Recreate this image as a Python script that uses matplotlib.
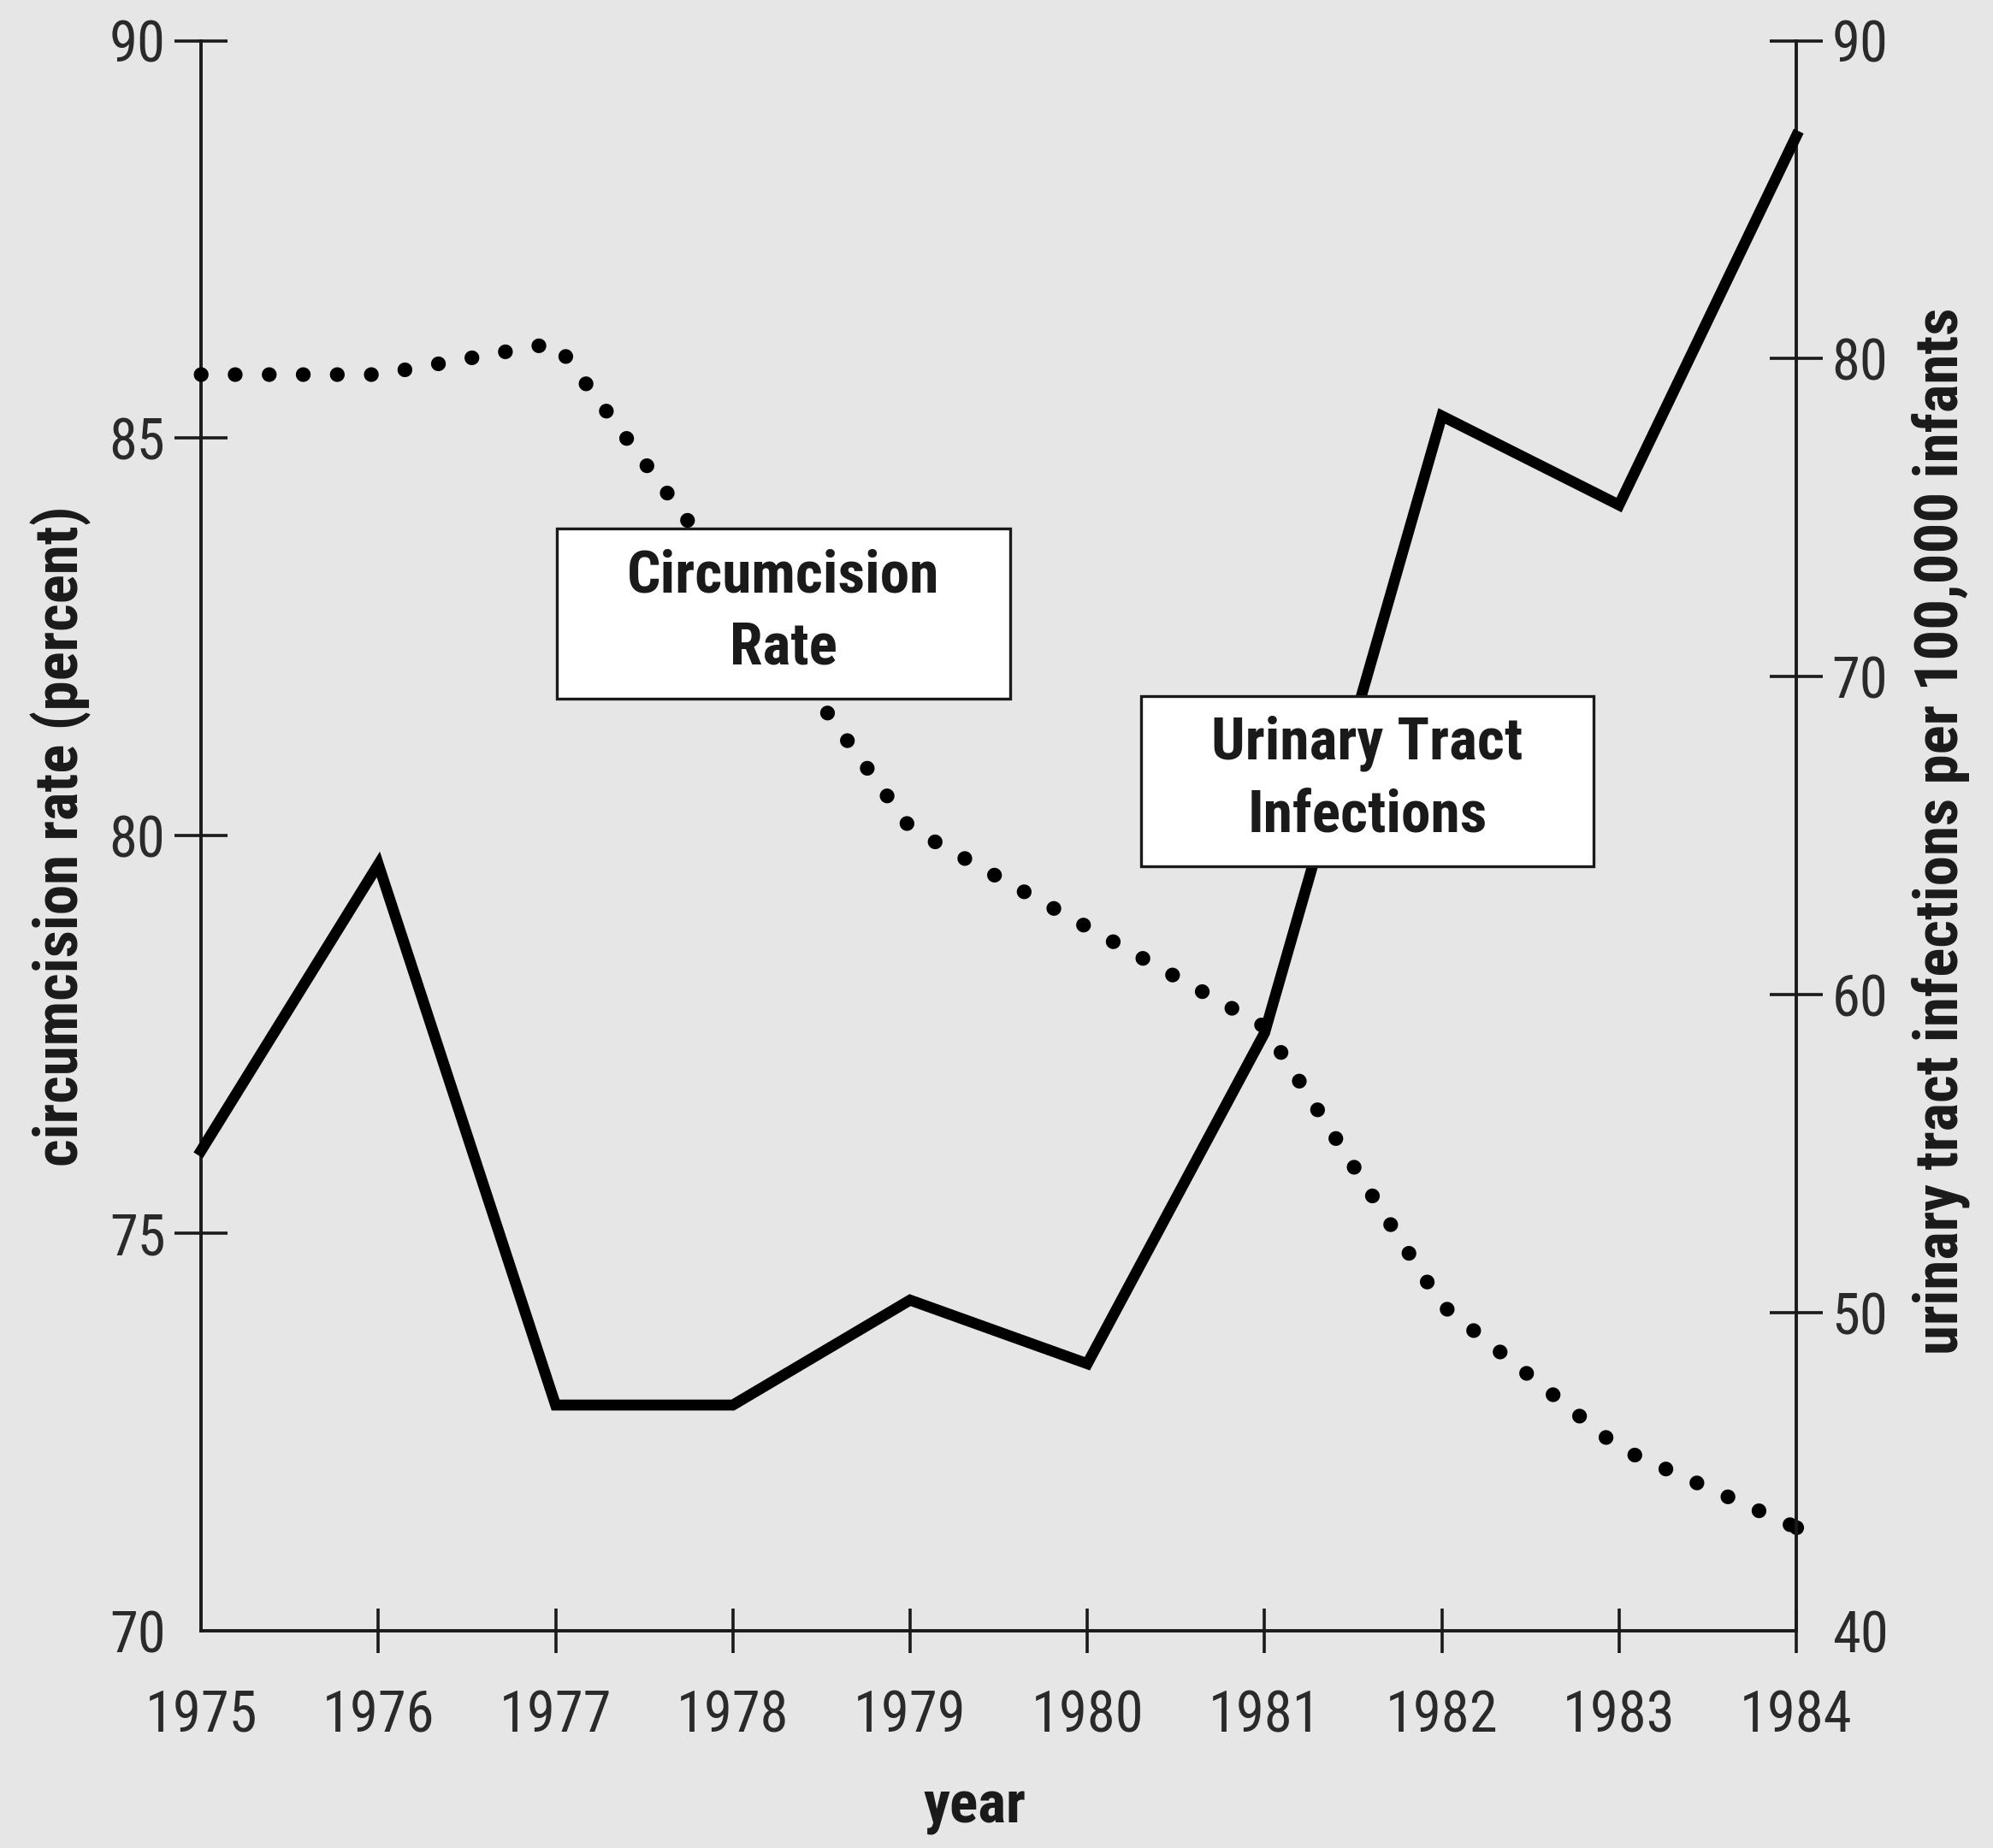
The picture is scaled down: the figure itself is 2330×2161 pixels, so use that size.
import matplotlib
matplotlib.use("Agg")
import matplotlib.pyplot as plt
from matplotlib import font_manager
from matplotlib.patches import Rectangle

# pick a narrow/condensed face if one is installed
narrow = [f for f in font_manager.fontManager.ttflist
          if ('Condensed' in f.name or 'Narrow' in f.name
              or f.stretch in ('condensed', 'semi-condensed', 'extra-condensed'))]
families = sorted({f.name for f in narrow})
preferred = [n for n in ['DejaVu Sans Condensed', 'Liberation Sans Narrow',
                         'Roboto Condensed', 'Open Sans Condensed'] if n in families]
fam = (preferred + families + ['DejaVu Sans'])[0]
plt.rcParams['font.family'] = [fam, 'DejaVu Sans']
plt.rcParams['font.stretch'] = 'condensed'

years = [1975, 1976, 1977, 1978, 1979, 1980, 1981, 1982, 1983, 1984]
circ_rate = [85.8, 85.8, 86.2, 83.2, 80.1, 78.85, 77.6, 74.1, 72.3, 71.3]
uti_rate = [55.1, 64.1, 47.1, 47.1, 50.4, 48.4, 58.8, 78.2, 75.4, 87.0]

left_ticks = [70, 75, 80, 85, 90]
right_ticks = [40, 50, 60, 70, 80, 90]

bg = '#e6e6e6'
ink = '#1a1a1a'

fig = plt.figure(figsize=(11.65, 10.805), dpi=200, facecolor=bg)
ax = fig.add_axes([0.1009, 0.1175, 0.8004, 0.8605])
ax.set_facecolor(bg)
ax2 = ax.twinx()

# circumcision rate - dotted, left axis
ax.plot(years, circ_rate, color='black', lw=6.2, linestyle=(0, (0.01, 2.3)),
        dash_capstyle='round', clip_on=False, zorder=3)
# dot at the last point so the dotted line ends on the axis
ax.plot(years[-1:], circ_rate[-1:], 'o', color='black', ms=6.2, mew=0,
        clip_on=False, zorder=3)
# urinary tract infections - solid, right axis
ax2.plot(years, uti_rate, color='black', lw=4.6, solid_joinstyle='miter',
         clip_on=False, zorder=3)

ax.set_xlim(1975, 1984)
ax.set_ylim(70, 90)
ax2.set_ylim(40, 90)

ax.set_xticks(years)
ax.set_yticks(left_ticks)
ax2.set_yticks(right_ticks)

for s in ['top', 'right']:
    ax.spines[s].set_visible(False)
for s in ['top', 'left', 'bottom']:
    ax2.spines[s].set_visible(False)
for s in ['left', 'bottom']:
    ax.spines[s].set_linewidth(1.4)
    ax.spines[s].set_color(ink)
ax2.spines['right'].set_linewidth(1.4)
ax2.spines['right'].set_color(ink)

ax.tick_params(axis='y', direction='inout', length=22, width=1.3, color=ink,
               labelsize=24, labelcolor='#2a2a2a', pad=4)
ax.tick_params(axis='x', direction='inout', length=19, width=1.3, color=ink,
               labelsize=24, labelcolor='#2a2a2a', pad=15)
ax2.tick_params(axis='y', direction='inout', length=22, width=1.3, color=ink,
                labelsize=24, labelcolor='#2a2a2a', pad=4)

# no tick marks where the axes meet
ax.yaxis.get_major_ticks()[0].tick1line.set_visible(False)
ax.xaxis.get_major_ticks()[0].tick1line.set_visible(False)
ax2.yaxis.get_major_ticks()[0].tick2line.set_visible(False)

ax.set_xlabel('year', fontsize=25, fontweight='bold', color=ink)
ax.xaxis.set_label_coords(0.485, -0.111)
ax.xaxis.label.set_va('center')
ax.set_ylabel('circumcision rate (percent)', fontsize=25.5, fontweight='bold', color=ink)
ax.yaxis.set_label_coords(-0.088, 0.5)
ax.yaxis.label.set_va('center')
ax2.set_ylabel('urinary tract infections per 100,000 infants', fontsize=25.5,
               fontweight='bold', color=ink)
ax2.yaxis.set_label_coords(1.0906, 0.503)
ax2.yaxis.label.set_va('center')

# label boxes
for (x0, y0, label) in [(0.223, 0.586, 'Circumcision\nRate'),
                        (0.589, 0.481, 'Urinary Tract\nInfections')]:
    ax2.add_patch(Rectangle((x0, y0), 0.284, 0.107, transform=ax2.transAxes,
                            facecolor='white', edgecolor=ink, lw=1.2, zorder=5))
    ax2.text(x0 + 0.142, y0 + 0.0545, label, transform=ax2.transAxes,
             ha='center', va='center', fontsize=25, fontweight='bold',
             color=ink, linespacing=1.38, zorder=6)

fig.savefig('out.png', dpi=200, facecolor=bg)
